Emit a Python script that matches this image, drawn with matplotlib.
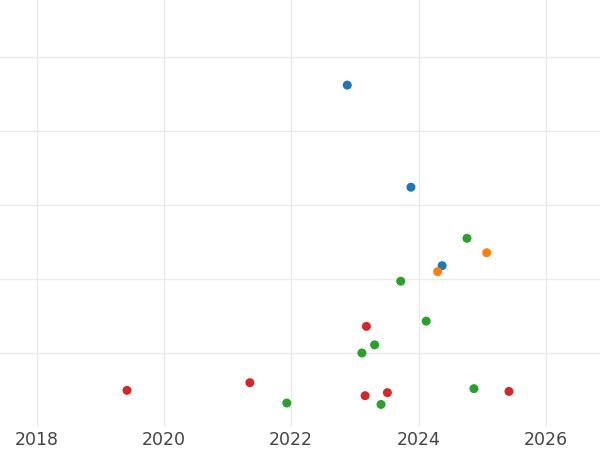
import matplotlib
matplotlib.use("Agg")
import matplotlib.pyplot as plt

# Data (x = decimal year, y = value)
blue_x = [2022.88, 2023.88, 2024.37]
blue_y = [46.2, 32.4, 21.8]
orange_x = [2024.30, 2025.07]
orange_y = [21.0, 23.55]
green_x = [2024.76, 2023.72, 2024.12, 2023.31, 2023.11, 2021.93, 2023.41, 2024.87]
green_y = [25.5, 19.7, 14.3, 11.1, 10.0, 3.24, 3.05, 5.18]
red_x = [2019.42, 2021.35, 2023.18, 2023.16, 2023.51, 2025.42]
red_y = [4.95, 5.99, 13.6, 4.23, 4.64, 4.81]

x_ticks = [2018, 2020, 2022, 2024, 2026]
x_tick_labels = ["2018", "2020", "2022", "2024", "2026"]
y_grid = [10, 20, 30, 40, 50]

fig = plt.figure(figsize=(6, 4.5), dpi=100)
ax = fig.add_axes([0, 23/450, 1, 427/450])

series = [
    (blue_x, blue_y, "#1f77b4"),
    (orange_x, orange_y, "#ff7f0e"),
    (green_x, green_y, "#2ca02c"),
    (red_x, red_y, "#d62728"),
]
for xs, ys, c in series:
    ax.scatter(xs, ys, s=42, color=c, edgecolors="none", zorder=3)

ax.set_xlim(2017.425, 2026.85)
ax.set_ylim(0, 57.7)
ax.set_xticks(x_ticks)
ax.set_xticklabels(x_tick_labels)
ax.set_yticks(y_grid)
ax.set_yticklabels([])
ax.grid(True, color="#ebebeb", linewidth=1.0, zorder=0)
ax.set_axisbelow(True)
ax.tick_params(axis="both", length=0)
ax.tick_params(axis="x", labelsize=12.5, labelcolor="#444444", pad=3)
for s in ax.spines.values():
    s.set_visible(False)

fig.savefig("out.png", dpi=100)
